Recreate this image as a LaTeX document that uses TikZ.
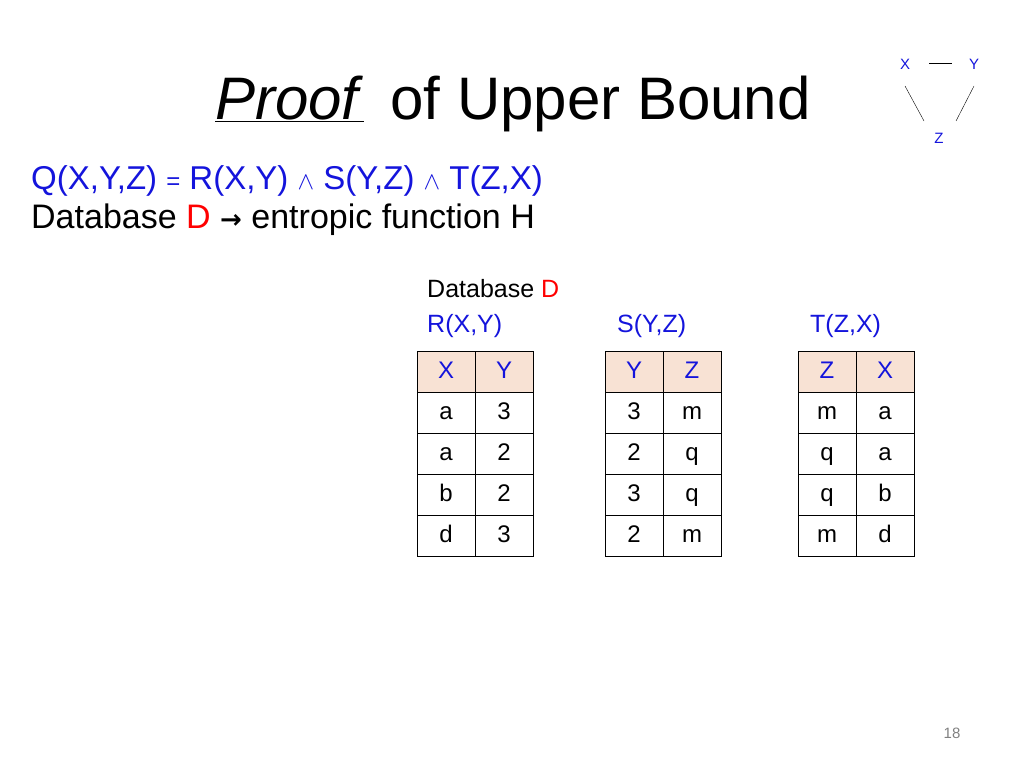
\documentclass[tikz,border=0pt]{standalone}
\usepackage{fontspec}
\setmainfont{Liberation Sans}
\definecolor{qblue}{RGB}{20,20,220}
\definecolor{hdr}{RGB}{248,226,212}
\begin{document}
\begin{tikzpicture}[x=1pt,y=-1pt,
  cell/.style={draw=black,line width=1pt,minimum width=58pt,minimum height=41pt,inner sep=0pt,text height=17pt,text depth=4pt,font=\fontsize{24}{24}\selectfont},
  hcell/.style={cell,fill=hdr,text=qblue},
  lab/.style={anchor=base west,inner sep=0pt,font=\fontsize{25}{25}\selectfont},
  gv/.style={text=qblue,font=\fontsize{15}{15}\selectfont,inner sep=1pt}]
\useasboundingbox (0,0) rectangle (1024,768);
\node[anchor=base,inner sep=0pt,font=\fontsize{60}{60}\selectfont] (title) at (513,119) {\underline{\textit{Proof}}\, of Upper Bound};
\node[lab,text=qblue,font=\fontsize{33}{33}\selectfont] (q) at (31,189) {Q(X,Y,Z) {\fontsize{24}{24}\selectfont=} R(X,Y) {\fontsize{40}{40}\selectfont$\wedge$} S(Y,Z) {\fontsize{40}{40}\selectfont$\wedge$} T(Z,X)};
\node[lab,font=\fontsize{34}{34}\selectfont] (db) at (31,228) {Database \textcolor{red}{D} {\fontspec{DejaVu Sans}\fontsize{26}{26}\selectfont\bfseries →} entropic function H};
\node[lab] (dbd) at (427,297) {Database \textcolor{red}{D}};
\node[lab,text=qblue] (r) at (427,332) {R(X,Y)};
\node[lab,text=qblue] (s) at (617,332) {S(Y,Z)};
\node[lab,text=qblue] (t) at (810,332) {T(Z,X)};
\newcommand\mytable[6]{%
  \node[hcell] (#1h1) at (#2,371.5) {#3};
  \node[hcell] (#1h2) at (#2+58,371.5) {#4};
  \foreach \v [count=\i] in {#5}{\node[cell] (#1a\i) at (#2,371.5+41*\i) {\v};}
  \foreach \v [count=\i] in {#6}{\node[cell] (#1b\i) at (#2+58,371.5+41*\i) {\v};}
}
\mytable{R}{446}{X}{Y}{a,a,b,d}{3,2,2,3}
\mytable{S}{634}{Y}{Z}{3,2,3,2}{m,q,q,m}
\mytable{T}{827}{Z}{X}{m,q,q,m}{a,a,b,d}
\node[gv] (gx) at (905,64) {X};
\node[gv] (gy) at (974,64) {Y};
\node[gv] (gz) at (939,138) {Z};
\draw (929,63) -- (952,63);
\draw (905,86) -- (924,121);
\draw (974,86) -- (956,121);
\node[font=\fontsize{15}{15}\selectfont,text=gray] (pg) at (952,733) {18};
\end{tikzpicture}
\end{document}
